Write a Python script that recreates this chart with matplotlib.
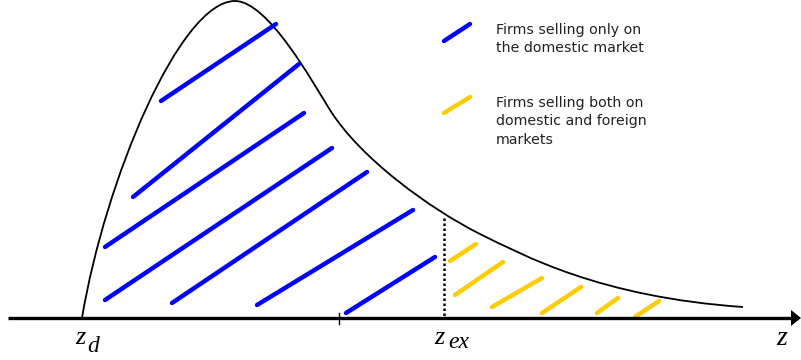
import matplotlib
matplotlib.use("Agg")
import matplotlib.pyplot as plt
from matplotlib.path import Path
from matplotlib.patches import PathPatch

# schematic drawn in pixel space of the 801x360 image (y grows downward)
# density curve as cubic Bezier pieces: start, then (ctrl1, ctrl2, end) per piece
curve_start = (82, 318)
curve_pieces = [
    ((105, 180), (180, 1), (235, 1)),
    ((268, 1), (313, 83), (330, 110)),
    ((360, 158), (430, 209), (480, 234)),
    ((525, 256), (600, 297), (743, 307)),
]

# hatch segments: (x0, y0, x1, y1)
domestic_hatch = [(161, 101, 276, 24), (133, 197, 299, 64), (105, 247, 304, 113),
                  (105, 300, 332, 148), (172, 303, 367, 172), (257, 305, 413, 210),
                  (346, 313, 435, 257)]
export_hatch = [(450, 261, 476, 244), (455, 295, 503, 262), (492, 307, 542, 278),
                (542, 313, 581, 287), (597, 313, 618, 298), (635, 317, 659, 301)]

z_tick, z_ex = 339, 444
axis_y = 318
ex_top = 218

legend_labels = ["Firms selling only on\nthe domestic market",
                 "Firms selling both on\ndomestic and foreign\nmarkets"]

blue = "#0000ff"
gold = "#ffcc00"
serif_it = dict(family="Liberation Serif", style="italic", color="black")

fig = plt.figure(figsize=(8.01, 3.6), dpi=100)
ax = fig.add_axes([0, 0, 1, 1])
ax.set_xlim(0, 801)
ax.set_ylim(360, 0)
ax.axis("off")

verts = [curve_start]
codes = [Path.MOVETO]
for c1, c2, end in curve_pieces:
    verts += [c1, c2, end]
    codes += [Path.CURVE4] * 3
ax.add_patch(PathPatch(Path(verts, codes), fill=False, edgecolor="black", lw=1.3))

for x0, y0, x1, y1 in domestic_hatch:
    ax.plot([x0, x1], [y0, y1], color=blue, lw=3.2, solid_capstyle="round")
for x0, y0, x1, y1 in export_hatch:
    ax.plot([x0, x1], [y0, y1], color=gold, lw=3.2, solid_capstyle="round")

# vertical dotted line at z_ex
ax.plot([z_ex, z_ex], [ex_top, axis_y], color="black", lw=1.8, ls=(0, (1, 1)))

# horizontal axis with arrow
ax.plot([8, 793], [axis_y, axis_y], color="black", lw=2.4, solid_capstyle="butt")
ax.fill([791, 801, 791], [axis_y - 8, axis_y, axis_y + 8], color="black", lw=0)
ax.plot([z_tick, z_tick], [313, 324], color="black", lw=1)

# axis labels
ax.text(75, 344, "z", fontsize=19, va="baseline", **serif_it)
ax.text(87, 352, "d", fontsize=17, va="baseline", **serif_it)
ax.text(434, 344, "z", fontsize=19, va="baseline", **serif_it)
ax.text(448, 348, "ex", fontsize=17, va="baseline", **serif_it)
ax.text(776, 345, "z", fontsize=20, va="baseline", **serif_it)

# legend
ax.plot([444, 470], [41, 24], color=blue, lw=3.2, solid_capstyle="round")
ax.plot([444, 470], [113, 97], color=gold, lw=3.2, solid_capstyle="round")
ax.text(496, 23, legend_labels[0], fontsize=10.2, family="DejaVu Sans", color="#222222",
        va="top", ha="left", linespacing=1.4)
ax.text(496, 96, legend_labels[1], fontsize=10.2, family="DejaVu Sans", color="#222222",
        va="top", ha="left", linespacing=1.4)

fig.savefig("out.png", dpi=100)
